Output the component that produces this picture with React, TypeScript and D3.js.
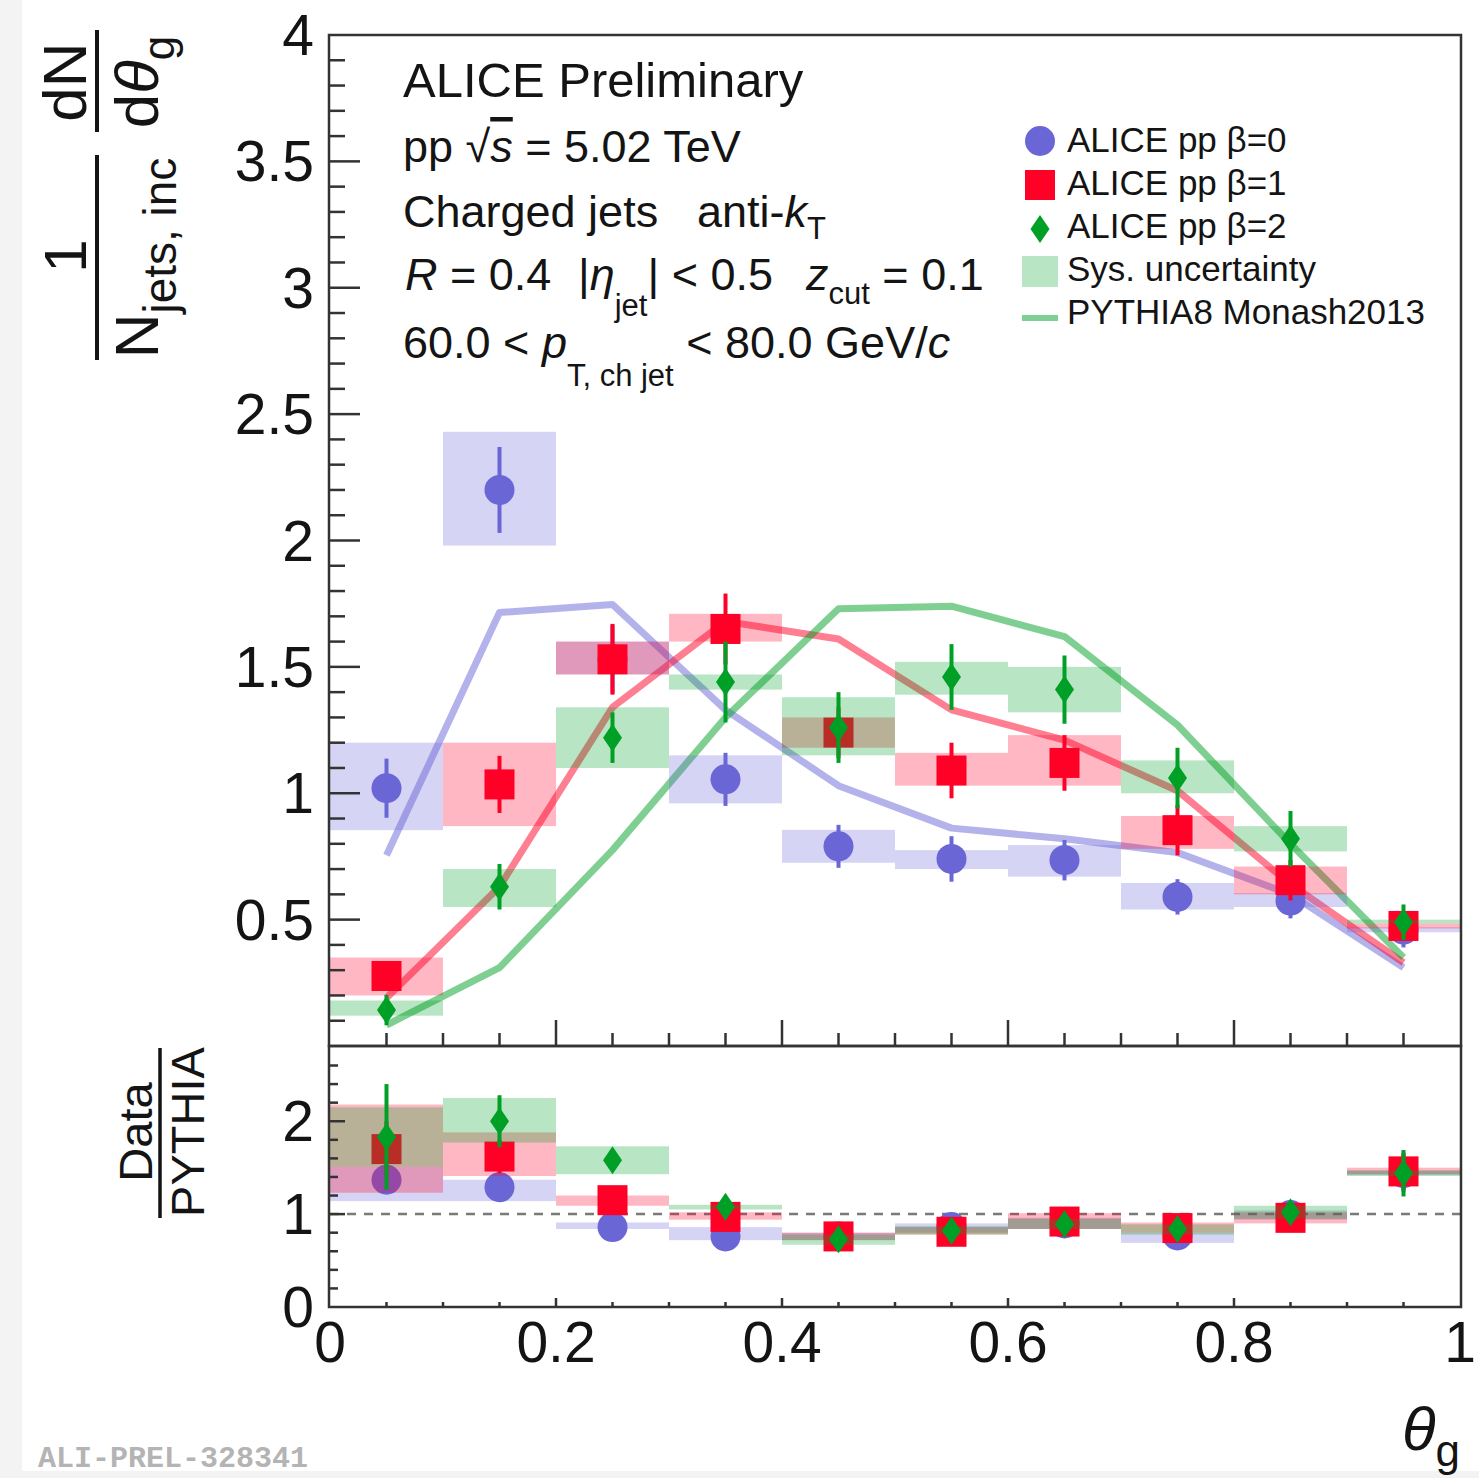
import React from 'react';
import * as d3 from 'd3';

// ---------- data ----------
const thetaCenters = [0.05, 0.15, 0.25, 0.35, 0.45, 0.55, 0.65, 0.75, 0.85, 0.95];
const binHalfWidth = 0.05;

// beta = 0
const b0Val = [1.02, 2.2, 1.53, 1.055, 0.79, 0.74, 0.735, 0.59, 0.575, 0.46];
const b0Stat = [0.117, 0.17, 0.135, 0.105, 0.085, 0.09, 0.08, 0.07, 0.07, 0.07];
const b0SysLo = [0.854, 1.98, 1.47, 0.96, 0.725, 0.7, 0.67, 0.54, 0.55, 0.45];
const b0SysHi = [1.2, 2.43, 1.6, 1.15, 0.855, 0.775, 0.795, 0.645, 0.605, 0.47];
// beta = 1
const b1Val = [0.277, 1.035, 1.53, 1.65, 1.24, 1.09, 1.12, 0.854, 0.656, 0.475];
const b1Stat = [0.05, 0.113, 0.14, 0.14, 0.1, 0.11, 0.11, 0.1, 0.08, 0.05];
const b1SysLo = [0.2, 0.87, 1.47, 1.6, 1.18, 1.03, 1.03, 0.78, 0.6, 0.465];
const b1SysHi = [0.35, 1.2, 1.6, 1.71, 1.3, 1.16, 1.23, 0.91, 0.71, 0.485];
// beta = 2
const b2Val = [0.142, 0.63, 1.22, 1.44, 1.26, 1.46, 1.41, 1.06, 0.82, 0.49];
const b2Stat = [0.06, 0.09, 0.1, 0.16, 0.14, 0.13, 0.135, 0.12, 0.11, 0.07];
const b2SysLo = [0.12, 0.55, 1.1, 1.41, 1.15, 1.39, 1.32, 1.0, 0.77, 0.485];
const b2SysHi = [0.18, 0.7, 1.34, 1.47, 1.38, 1.52, 1.5, 1.13, 0.87, 0.5];

// PYTHIA8 Monash2013
const pythia0 = [0.755, 1.715, 1.747, 1.33, 1.03, 0.862, 0.82, 0.765, 0.6, 0.31];
const pythia1 = [0.19, 0.63, 1.34, 1.68, 1.61, 1.33, 1.21, 1.01, 0.64, 0.33];
const pythia2 = [0.083, 0.31, 0.775, 1.3, 1.73, 1.74, 1.62, 1.27, 0.8, 0.35];

// Data / PYTHIA ratios
const r0Val = [1.37, 1.29, 0.86, 0.76, 0.76, 0.86, 0.9, 0.77, 0.99, 1.44];
const r0Stat = [0.15, 0.12, 0.06, 0.06, 0.05, 0.06, 0.06, 0.06, 0.08, 0.2];
const r0SysLo = [1.14, 1.14, 0.84, 0.72, 0.72, 0.8, 0.84, 0.69, 0.94, 1.42];
const r0SysHi = [1.51, 1.37, 0.91, 0.86, 0.8, 0.9, 0.96, 0.8, 1.04, 1.47];
const r1Val = [1.7, 1.62, 1.15, 0.97, 0.76, 0.81, 0.92, 0.85, 0.96, 1.46];
const r1Stat = [0.3, 0.18, 0.08, 0.08, 0.06, 0.08, 0.08, 0.1, 0.1, 0.2];
const r1SysLo = [1.23, 1.41, 1.09, 0.94, 0.72, 0.78, 0.84, 0.8, 0.9, 1.43];
const r1SysHi = [2.18, 1.88, 1.2, 1.02, 0.8, 0.86, 1.01, 0.91, 1.02, 1.5];
const r2Val = [1.83, 2.0, 1.58, 1.08, 0.73, 0.82, 0.89, 0.84, 1.02, 1.44];
const r2Stat = [0.57, 0.28, 0.06, 0.07, 0.06, 0.07, 0.07, 0.08, 0.1, 0.25];
const r2SysLo = [1.51, 1.77, 1.43, 1.05, 0.67, 0.78, 0.84, 0.78, 0.95, 1.41];
const r2SysHi = [2.15, 2.25, 1.73, 1.1, 0.78, 0.87, 0.95, 0.89, 1.09, 1.47];

const upperYTicks = [0.5, 1, 1.5, 2, 2.5, 3, 3.5, 4];
const upperYTickLabels = ['0.5', '1', '1.5', '2', '2.5', '3', '3.5', '4'];
const lowerYTicks = [0, 1, 2];
const lowerYTickLabels = ['0', '1', '2'];
const xTicks = [0, 0.2, 0.4, 0.6, 0.8, 1];
const xTickLabels = ['0', '0.2', '0.4', '0.6', '0.8', '1'];

const legendLabels = ['ALICE pp β=0', 'ALICE pp β=1', 'ALICE pp β=2', 'Sys. uncertainty', 'PYTHIA8 Monash2013'];

// ---------- styles ----------
const BLUE = '#6a66d6';
const RED = '#ff0026';
const GREEN = '#00a026';
const FONT = "'Liberation Sans', Arial, Helvetica, sans-serif";
const INK = '#141414';

const X0 = 330, X1 = 1460;
const UP_TOP = 35, UP_BOT = 1046, LO_BOT = 1307;

type Shape = 'circle' | 'square' | 'diamond';

function Marker({ shape, cx, cy, color }: { shape: Shape; cx: number; cy: number; color: string }) {
  if (shape === 'circle') return <circle cx={cx} cy={cy} r={15} fill={color} />;
  if (shape === 'square') return <rect x={cx - 15} y={cy - 15} width={30} height={30} fill={color} />;
  return <path d={`M${cx},${cy - 14}L${cx + 9.5},${cy}L${cx},${cy + 14}L${cx - 9.5},${cy}Z`} fill={color} />;
}

export default function App() {
  const x = d3.scaleLinear().domain([0, 1]).range([X0, X1]);
  const yU = d3.scaleLinear().domain([0, 4]).range([UP_BOT, UP_TOP]);
  const yL = d3.scaleLinear().domain([0, 2.81]).range([LO_BOT, UP_BOT]);

  const upperSeries = [
    { color: BLUE, shape: 'circle' as Shape, val: b0Val, stat: b0Stat, lo: b0SysLo, hi: b0SysHi, py: pythia0 },
    { color: RED, shape: 'square' as Shape, val: b1Val, stat: b1Stat, lo: b1SysLo, hi: b1SysHi, py: pythia1 },
    { color: GREEN, shape: 'diamond' as Shape, val: b2Val, stat: b2Stat, lo: b2SysLo, hi: b2SysHi, py: pythia2 },
  ];
  const lowerSeries = [
    { color: BLUE, shape: 'circle' as Shape, val: r0Val, stat: r0Stat, lo: r0SysLo, hi: r0SysHi },
    { color: RED, shape: 'square' as Shape, val: r1Val, stat: r1Stat, lo: r1SysLo, hi: r1SysHi },
    { color: GREEN, shape: 'diamond' as Shape, val: r2Val, stat: r2Stat, lo: r2SysLo, hi: r2SysHi },
  ];

  const line = d3
    .line<number>()
    .x((_, i) => x(thetaCenters[i]))
    .y((d) => yU(d));

  const upMinorY = d3.range(1, 40).map((i) => i / 10);
  const loMinorY = d3.range(1, 14).map((i) => i / 5);
  const xMinor = d3.range(1, 20).map((i) => i / 20);

  const boxes = (s: any, y: any, key: string) =>
    thetaCenters.map((c, i) => (
      <rect
        key={key + i}
        x={x(c - binHalfWidth)}
        width={x(c + binHalfWidth) - x(c - binHalfWidth)}
        y={y(s.hi[i])}
        height={Math.max(2, y(s.lo[i]) - y(s.hi[i]))}
        fill={s.color}
        fillOpacity={0.28}
      />
    ));
  const points = (s: any, y: any, key: string) =>
    thetaCenters.map((c, i) => (
      <g key={key + i}>
        <line x1={x(c)} x2={x(c)} y1={y(s.val[i] - s.stat[i])} y2={y(s.val[i] + s.stat[i])} stroke={s.color} strokeWidth={4} />
        <Marker shape={s.shape} cx={x(c)} cy={y(s.val[i])} color={s.color} />
      </g>
    ));

  const tickLab = { fontFamily: FONT, fontSize: 57, fill: INK } as const;

  return (
    <svg width={1479} height={1478} style={{ position: 'absolute', left: 0, top: 0, display: 'block' }}>
      <rect x={0} y={0} width={1479} height={1478} fill="#f3f3f3" />
      <rect x={22} y={0} width={1457} height={1471} fill="#ffffff" />

      {/* ---------- upper panel ---------- */}
      {upperSeries.map((s, k) => (
        <path key={'pl' + k} d={line(s.py) || ''} fill="none" stroke={s.color} strokeOpacity={0.5} strokeWidth={7} strokeLinejoin="round" />
      ))}
      {upperSeries.map((s, k) => (
        <g key={'us' + k}>
          {boxes(s, yU, 'ub' + k)}
          {points(s, yU, 'up' + k)}
        </g>
      ))}

      {/* ---------- lower panel ---------- */}
      <line x1={X0} x2={X1} y1={yL(1)} y2={yL(1)} stroke="#7a7a7a" strokeWidth={2.5} strokeDasharray="9 8" />
      {lowerSeries.map((s, k) => (
        <g key={'ls' + k}>
          {boxes(s, yL, 'lb' + k)}
          {points(s, yL, 'lp' + k)}
        </g>
      ))}

      {/* ---------- frames & ticks ---------- */}
      <rect x={X0 - 1} y={UP_TOP} width={X1 - X0 + 2} height={UP_BOT - UP_TOP} fill="none" stroke="#333" strokeWidth={2.5} />
      <rect x={X0 - 1} y={UP_BOT} width={X1 - X0 + 2} height={LO_BOT - UP_BOT} fill="none" stroke="#333" strokeWidth={2.5} />

      {upMinorY.map((v) => {
        const major = Math.abs(v * 2 - Math.round(v * 2)) < 1e-6;
        return <line key={'uy' + v} x1={X0} x2={X0 + (major ? 30 : 15)} y1={yU(v)} y2={yU(v)} stroke="#333" strokeWidth={2.5} />;
      })}
      {loMinorY.map((v) => {
        const major = Math.abs(v - Math.round(v)) < 1e-6;
        return <line key={'ly' + v} x1={X0} x2={X0 + (major ? 15 : 8)} y1={yL(v)} y2={yL(v)} stroke="#333" strokeWidth={2.5} />;
      })}
      {xMinor.map((v) => {
        const major = Math.abs(v * 5 - Math.round(v * 5)) < 1e-6;
        return (
          <g key={'xt' + v}>
            <line x1={x(v)} x2={x(v)} y1={UP_BOT} y2={UP_BOT - (major ? 26 : 13)} stroke="#333" strokeWidth={2.5} />
            <line x1={x(v)} x2={x(v)} y1={LO_BOT} y2={LO_BOT - (major ? 9 : 5)} stroke="#333" strokeWidth={2.5} />
          </g>
        );
      })}

      {upperYTicks.map((v, i) => (
        <text key={'uyl' + i} x={314} y={yU(v) + 20} textAnchor="end" {...tickLab}>{upperYTickLabels[i]}</text>
      ))}
      {lowerYTicks.map((v, i) => (
        <text key={'lyl' + i} x={314} y={yL(v) + 20} textAnchor="end" {...tickLab}>{lowerYTickLabels[i]}</text>
      ))}
      {xTicks.map((v, i) => (
        <text key={'xl' + i} x={x(v)} y={1362} textAnchor="middle" {...tickLab}>{xTickLabels[i]}</text>
      ))}

      {/* x title */}
      <text x={1460} y={1450} textAnchor="end" fontFamily={FONT} fill={INK}>
        <tspan fontSize={62} fontStyle="italic">θ</tspan>
        <tspan fontSize={44} dy={16}>g</tspan>
      </text>

      {/* upper y title (rotated) */}
      <g transform="rotate(-90)" fontFamily={FONT} fill={INK}>
        <text x={-256} y={86} textAnchor="middle" fontSize={60}>1</text>
        <line x1={-155} x2={-360} y1={97} y2={97} stroke={INK} strokeWidth={4} />
        <text x={-258} y={158} textAnchor="middle">
          <tspan fontSize={62}>N</tspan>
          <tspan fontSize={46} dy={18}>jets, inc</tspan>
        </text>
        <text x={-82} y={86} textAnchor="middle" fontSize={62}>dN</text>
        <line x1={-30} x2={-132} y1={97} y2={97} stroke={INK} strokeWidth={4} />
        <text x={-82} y={158} textAnchor="middle">
          <tspan fontSize={62}>d</tspan>
          <tspan fontSize={62} fontStyle="italic">θ</tspan>
          <tspan fontSize={44} dy={16}>g</tspan>
        </text>
      </g>

      {/* lower y title */}
      <g transform="rotate(-90)" fontFamily={FONT} fill={INK}>
        <text x={-1132} y={152} textAnchor="middle" fontSize={47}>Data</text>
        <line x1={-1048} x2={-1218} y1={160} y2={160} stroke={INK} strokeWidth={3.5} />
        <text x={-1132} y={204} textAnchor="middle" fontSize={47}>PYTHIA</text>
      </g>

      {/* text block */}
      <g fontFamily={FONT} fill={INK}>
        <text x={403} y={97} fontSize={49}>ALICE Preliminary</text>
        <text x={403} y={162} fontSize={45}>
          <tspan>pp </tspan>
          <tspan>√</tspan>
          <tspan fontStyle="italic" style={{ textDecoration: 'overline' }}>s</tspan>
          <tspan> = 5.02 TeV</tspan>
        </text>
        <text x={403} y={227} fontSize={45}>Charged jets</text>
        <text x={697} y={227} fontSize={45}>
          <tspan>anti-</tspan>
          <tspan fontStyle="italic">k</tspan>
          <tspan fontSize={31} dy={12}>T</tspan>
        </text>
        <text x={405} y={290} fontSize={45}>
          <tspan fontStyle="italic">R</tspan>
          <tspan> = 0.4</tspan>
        </text>
        <text x={578} y={290} fontSize={45}>
          <tspan>|</tspan>
          <tspan fontStyle="italic">η</tspan>
          <tspan fontSize={31} dy={26}>jet</tspan>
          <tspan dy={-26}>| &lt; 0.5</tspan>
        </text>
        <text x={806} y={290} fontSize={45}>
          <tspan fontStyle="italic">z</tspan>
          <tspan fontSize={31} dy={14}>cut</tspan>
          <tspan dy={-14}> = 0.1</tspan>
        </text>
        <text x={403} y={358} fontSize={45}>
          <tspan>60.0 &lt; </tspan>
          <tspan fontStyle="italic">p</tspan>
          <tspan fontSize={31} dy={28}>T, ch jet</tspan>
          <tspan dy={-28}> &lt; 80.0 GeV/</tspan>
          <tspan fontStyle="italic">c</tspan>
        </text>
      </g>

      {/* legend */}
      <g fontFamily={FONT} fill={INK} fontSize={35}>
        <Marker shape="circle" cx={1040} cy={141} color={BLUE} />
        <Marker shape="square" cx={1040} cy={185} color={RED} />
        <Marker shape="diamond" cx={1040} cy={229} color={GREEN} />
        <rect x={1022} y={256} width={36} height={31} fill={GREEN} fillOpacity={0.28} />
        <line x1={1022} x2={1058} y1={318} y2={318} stroke={GREEN} strokeOpacity={0.5} strokeWidth={6} />
        {legendLabels.map((l, i) => (
          <text key={'lg' + i} x={1067} y={152 + i * 43}>{l}</text>
        ))}
      </g>

      <text x={38} y={1467} fontFamily="'Liberation Mono', 'DejaVu Sans Mono', monospace" fontWeight="bold" fontSize={30} fill="#b4b4b4">ALI-PREL-328341</text>
    </svg>
  );
}
